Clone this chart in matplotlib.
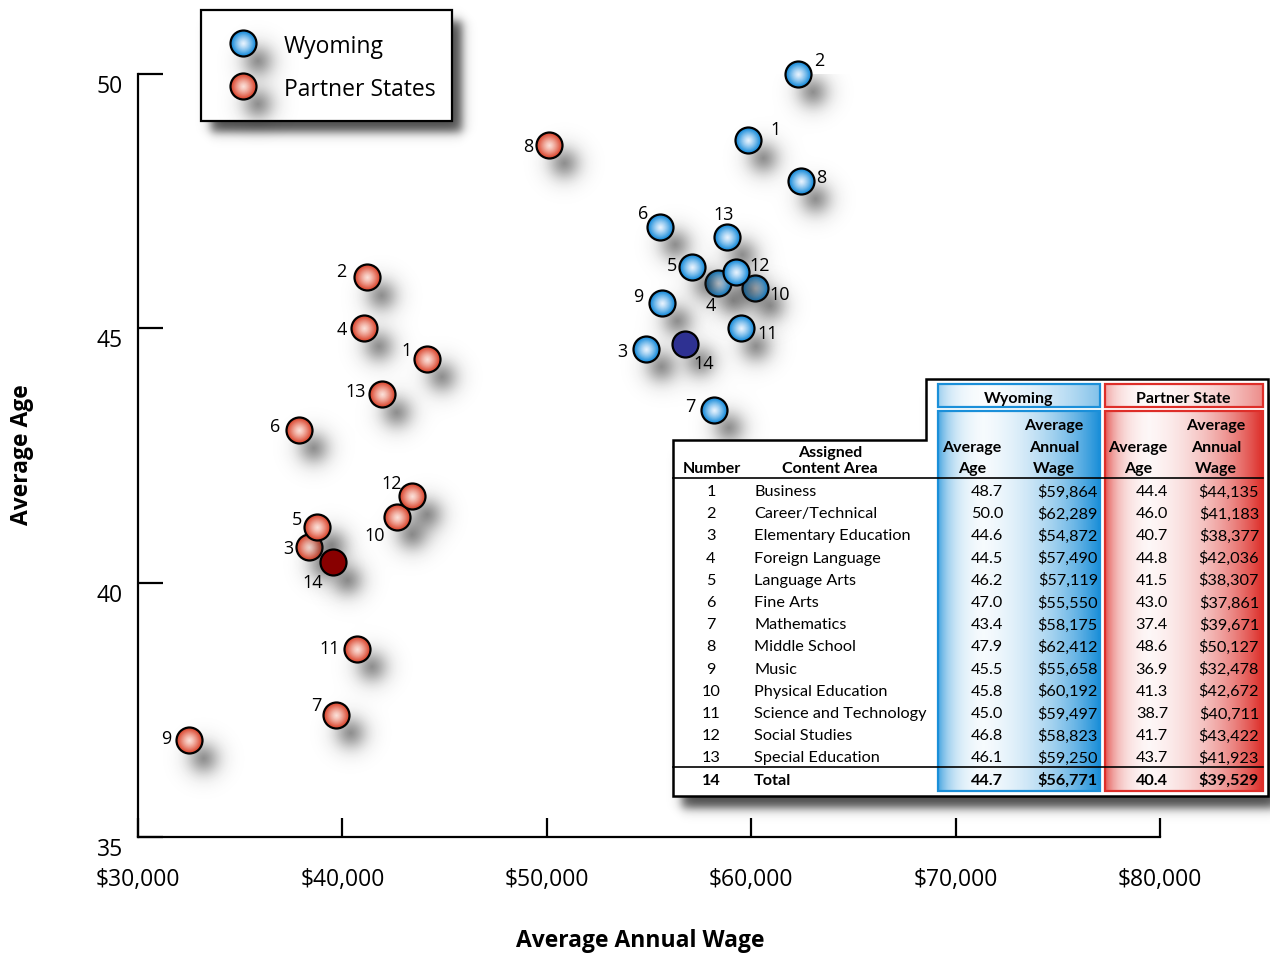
import numpy as np
import matplotlib
matplotlib.use('Agg')
import matplotlib.pyplot as plt
from matplotlib.patches import Rectangle, Polygon
from matplotlib.ticker import FuncFormatter

plt.rcParams['font.family'] = ['Open Sans', 'DejaVu Sans']

# --- table values ---
areas = ['Business', 'Career/Technical', 'Elementary Education', 'Foreign Language',
         'Language Arts', 'Fine Arts', 'Mathematics', 'Middle School', 'Music',
         'Physical Education', 'Science and Technology', 'Social Studies',
         'Special Education', 'Total']
wy_age = [48.7, 50.0, 44.6, 44.5, 46.2, 47.0, 43.4, 47.9, 45.5, 45.8, 45.0, 46.8, 46.1, 44.7]
wy_wage = [59864, 62289, 54872, 57490, 57119, 55550, 58175, 62412, 55658, 60192, 59497, 58823, 59250, 56771]
pa_age = [44.4, 46.0, 40.7, 44.8, 41.5, 43.0, 37.4, 48.6, 36.9, 41.3, 38.7, 41.7, 43.7, 40.4]
pa_wage = [44135, 41183, 38377, 42036, 38307, 37861, 39671, 50127, 32478, 42672, 40711, 43422, 41923, 39529]

# --- points as plotted on the chart ---
wy_x = [59864, 62289, 54872, 58380, 57119, 55550, 58175, 62412, 55658, 60192, 59497, 58823, 59250, 56771]
wy_y = [48.7, 50.0, 44.6, 45.9, 46.2, 47.0, 43.4, 47.9, 45.5, 45.8, 45.0, 46.8, 46.1, 44.7]
wy_lab = ['1', '2', '3', '4', '5', '6', '7', '8', '9', '10', '11', '13', '12', '14']
pa_x = [44135, 41183, 38377, 41050, 38750, 37861, 39671, 50127, 32478, 42672, 40711, 43422, 41923, 39529]
pa_y = [44.4, 46.0, 40.7, 45.0, 41.1, 43.0, 37.4, 48.6, 36.9, 41.3, 38.7, 41.7, 43.7, 40.4]
pa_lab = ['1', '2', '3', '4', '5', '6', '7', '8', '9', '10', '11', '12', '13', '14']

wage_ticks = [30000, 40000, 50000, 60000, 70000, 80000]
age_ticks = [35, 40, 45, 50]

# label offsets, pixels (right, down)
wy_off = [(27, -11), (21, -14), (-24, 2), (-7, 22), (-20, -2), (-17, -14), (-24, -4),
          (21, -4), (-24, -7), (25, 6), (27, 5), (-3, -23), (24, -7), (19, 19)]
pa_off = [(-20, -9), (-25, -6), (-21, 1), (-22, 1), (-20, -8), (-24, -4), (-19, -10),
          (-21, 1), (-22, -2), (-22, 18), (-27, -1), (-21, -13), (-26, -3), (-20, 20)]

WY_EDGE = (0.12, 0.56, 0.86)
WY_CTR = (0.92, 0.96, 1.0)
PA_EDGE = (0.86, 0.30, 0.21)
PA_CTR = (0.99, 0.89, 0.86)
WY_TOT = '#2E3192'
PA_TOT = '#880000'
BLUE = (0.10, 0.56, 0.85)
RED = (0.87, 0.18, 0.16)

W, H = 1270, 954


def ball(a, x, y, edge, centre, z, flat=False, s=350):
    a.scatter([x], [y], s=s, color=edge, edgecolors='black', linewidths=1.6,
              zorder=z, clip_on=False)
    if flat:
        return
    n = 12
    for k in range(1, n):
        f = 1 - k / n
        t = f ** 1.3
        c = tuple(centre[j] + (edge[j] - centre[j]) * t for j in range(3))
        a.scatter([x], [y], s=(s - 45) * f * f, color=c, linewidths=0,
                  zorder=z + 0.001 * k, clip_on=False)


def add_blob(A, cx, cy, R=11, soft=12.0, peak=0.58):
    x0, x1 = int(max(cx - 80, 0)), int(min(cx + 80, W))
    y0, y1 = int(max(cy - 80, 0)), int(min(cy + 80, H))
    xs = np.arange(x0, x1) + 0.5
    ys = np.arange(y0, y1) + 0.5
    r = np.hypot(xs[None, :] - cx, ys[:, None] - cy)
    a = peak * 0.5 * (1 - np.tanh((r - R) / soft))
    sub = A[y0:y1, x0:x1]
    A[y0:y1, x0:x1] = sub + a - sub * a


def add_box(A, x0, y0, x1, y1, soft=6.0, peak=0.8):
    xs = np.arange(W) + 0.5
    ys = np.arange(H) + 0.5
    sx = 0.5 * (np.tanh((xs - x0) / soft) - np.tanh((xs - x1) / soft))
    sy = 0.5 * (np.tanh((ys - y0) / soft) - np.tanh((ys - y1) / soft))
    np.maximum(A, peak * np.outer(sy, sx), out=A)


def rgba(A, grey=0.12):
    img = np.zeros((H, W, 4))
    img[..., :3] = grey
    img[..., 3] = np.clip(A, 0, 1)
    return img


def grad_img(rgb, strength=1.0, n=200):
    u = np.linspace(0, 1, n)
    p = np.maximum(0.8 * np.exp(-u / 0.09), u ** 2.6) * strength
    img = np.ones((2, n, 4))
    img[..., :3] = rgb
    img[..., 3] = np.clip(p, 0, 1)
    return img


fig = plt.figure(figsize=(W / 100, H / 100), dpi=100)
ax = fig.add_axes([138 / W, 1 - 838 / H, 1022 / W, 763 / H])
ax.set_xlim(30000, 80000)
ax.set_ylim(35, 50)
ax.patch.set_visible(False)
for s in ['top', 'right']:
    ax.spines[s].set_visible(False)
for s in ['left', 'bottom']:
    ax.spines[s].set_linewidth(1.6)
ax.set_xticks(wage_ticks)
ax.set_yticks(age_ticks)
ax.xaxis.set_major_formatter(FuncFormatter(lambda v, p: '${:,.0f}'.format(v)))
ax.tick_params(axis='x', direction='in', length=13.5, width=1.6, pad=21.5, labelsize=16.5)
ax.tick_params(axis='y', direction='in', length=18, width=1.6, pad=11, labelsize=16.5)
plt.setp(ax.get_yticklabels(), va='top')

# pixel positions of the points (top-origin)
wy_pix = ax.transData.transform(np.column_stack([wy_x, wy_y]))
pa_pix = ax.transData.transform(np.column_stack([pa_x, pa_y]))
wy_pix[:, 1] = H - wy_pix[:, 1]
pa_pix[:, 1] = H - pa_pix[:, 1]

wy_back = [3, 9]
pa_back = [2]

inv = ax.transData.inverted()
xa, ya = inv.transform((0, 0))
xb, yb = inv.transform((W, H))
ext = (xa, xb, ya, yb)

A_back = np.zeros((H, W))
A_front = np.zeros((H, W))
for i in range(14):
    tgt = A_back if i in wy_back else A_front
    add_blob(tgt, wy_pix[i, 0] + 15, wy_pix[i, 1] + 18)
    tgt = A_back if i in pa_back else A_front
    add_blob(tgt, pa_pix[i, 0] + 15, pa_pix[i, 1] + 18)

ax.imshow(rgba(A_back), extent=ext, origin='upper', aspect='auto', zorder=1,
          interpolation='nearest')
ax.imshow(rgba(A_front), extent=ext, origin='upper', aspect='auto', zorder=3,
          interpolation='nearest')

for i in range(14):
    zb = 2 if i in wy_back else 4
    ball(ax, wy_x[i], wy_y[i], WY_TOT if i == 13 else WY_EDGE, WY_CTR,
         zb + 0.02 * i, flat=(i == 13))
    zb = 2 if i in pa_back else 4
    ball(ax, pa_x[i], pa_y[i], PA_TOT if i == 13 else PA_EDGE, PA_CTR,
         zb + 0.02 * i, flat=(i == 13))
    ax.annotate(wy_lab[i], (wy_x[i], wy_y[i]), xytext=(wy_off[i][0], -wy_off[i][1]),
                textcoords='offset pixels', ha='center', va='center', fontsize=13, zorder=6)
    ax.annotate(pa_lab[i], (pa_x[i], pa_y[i]), xytext=(pa_off[i][0], -pa_off[i][1]),
                textcoords='offset pixels', ha='center', va='center', fontsize=13, zorder=6)

ax.set_xlim(30000, 80000)
ax.set_ylim(35, 50)

fig.text(640 / W, 1 - 941 / H, 'Average Annual Wage', ha='center', va='center',
         fontsize=16.5, fontweight='bold')
fig.text(22 / W, 1 - 455 / H, 'Average Age', ha='center', va='center',
         fontsize=16.5, fontweight='bold', rotation=90)

# overlay in pixel coordinates for legend and table
ov = fig.add_axes([0, 0, 1, 1], zorder=3)
ov.set_xlim(0, W)
ov.set_ylim(H, 0)
ov.axis('off')
ov.patch.set_visible(False)

A_box = np.zeros((H, W))
add_box(A_box, 211, 22, 462, 133)
add_box(A_box, 926 + 9, 380 + 12, 1268 + 9, 797 + 12)
add_box(A_box, 673 + 9, 441 + 12, 1268 + 9, 797 + 12)
ov.imshow(rgba(A_box), extent=(0, W, H, 0), aspect='auto', zorder=0, interpolation='nearest')

# legend
ov.add_patch(Rectangle((201, 11), 251, 111, fc='white', ec='black', lw=1.6, zorder=1))
A_leg = np.zeros((H, W))
add_blob(A_leg, 243 + 15, 44 + 18)
add_blob(A_leg, 243 + 15, 87 + 18)
ov.imshow(rgba(A_leg), extent=(0, W, H, 0), aspect='auto', zorder=1.5, interpolation='nearest')
ball(ov, 243, 44, WY_EDGE, WY_CTR, 2)
ball(ov, 243, 87, PA_EDGE, PA_CTR, 2)
ov.text(284, 47, 'Wyoming', ha='left', va='center', fontsize=16.5, zorder=3)
ov.text(284, 90, 'Partner States', ha='left', va='center', fontsize=16.5, zorder=3)

# table
tf = ['Lato', 'DejaVu Sans']
ov.add_patch(Polygon([(673, 441), (926, 441), (926, 380), (1268, 380), (1268, 797), (673, 797)],
                     closed=True, fc='white', ec='black', lw=1.8, zorder=1))
for (x0, x1, col) in [(938, 1100, BLUE), (1105, 1263, RED)]:
    ov.imshow(grad_img(col), extent=(x0, x1, 792, 412), aspect='auto',
              interpolation='bilinear', zorder=2)
    ov.imshow(grad_img(col, 0.55), extent=(x0, x1, 408, 385), aspect='auto',
              interpolation='bilinear', zorder=2)
    ov.add_patch(Rectangle((x0, 412), x1 - x0, 380, fill=False, ec=col, lw=1.6, zorder=3))
    ov.add_patch(Rectangle((x0, 385), x1 - x0, 23, fill=False, ec=col, lw=1.6, zorder=3))
ov.plot([673, 1263], [479, 479], color='black', lw=1.2, zorder=4)
ov.plot([673, 1263], [768, 768], color='black', lw=1.2, zorder=4)

hd = dict(ha='center', va='center', fontsize=11.5, fontweight='bold', family=tf, zorder=5)
ov.text(1019, 399, 'Wyoming', **hd)
ov.text(1183, 399, 'Partner State', **hd)
ov.text(712, 469, 'Number', **hd)
ov.text(830, 453, 'Assigned', **hd)
ov.text(830, 469, 'Content Area', **hd)
for cx in [972, 1138]:
    ov.text(cx, 448, 'Average', **hd)
    ov.text(cx, 469, 'Age', **hd)
for cx in [1054, 1216]:
    ov.text(cx, 426, 'Average', **hd)
    ov.text(cx, 448, 'Annual', **hd)
    ov.text(cx, 469, 'Wage', **hd)

for i in range(14):
    y = 492 + i * 22.2
    kw = dict(va='center', fontsize=11.7, family=tf, zorder=5,
              fontweight='bold' if i == 13 else 'normal')
    ov.text(711, y, str(i + 1), ha='center', **kw)
    ov.text(754, y, areas[i], ha='left', **kw)
    ov.text(1003, y, '{:.1f}'.format(wy_age[i]), ha='right', **kw)
    ov.text(1098, y, '${:,}'.format(wy_wage[i]), ha='right', **kw)
    ov.text(1168, y, '{:.1f}'.format(pa_age[i]), ha='right', **kw)
    ov.text(1259, y, '${:,}'.format(pa_wage[i]), ha='right', **kw)

ov.set_xlim(0, W)
ov.set_ylim(H, 0)

fig.savefig('out.png', dpi=100)
